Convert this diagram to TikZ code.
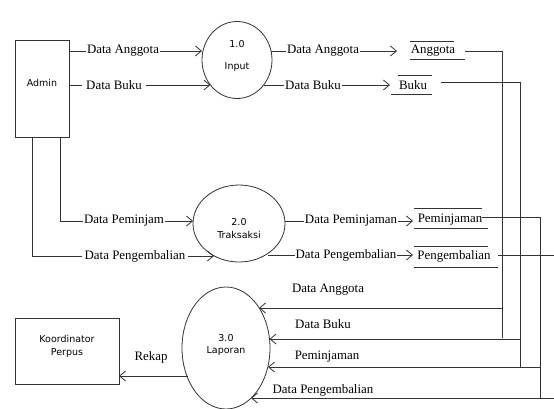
\documentclass[tikz,border=0pt]{standalone}
\usepackage{fontspec}
\setmainfont{Liberation Serif}
\newfontfamily\vsans{DejaVu Sans}
\usetikzlibrary{arrows.meta,shapes.geometric}
\begin{document}
\begin{tikzpicture}[x=1pt,y=-1pt,
  ln/.style={line width=0.8pt, draw=black!80},
  arr/.style={ln, -{Straight Barb[length=6pt,width=10pt]}},
  lbl/.style={font=\fontsize{12.9}{14}\selectfont, fill=white, inner sep=1pt},
  plain/.style={font=\fontsize{12.9}{14}\selectfont, inner sep=1pt},
  sans/.style={font=\vsans\fontsize{9.5}{12}\selectfont, align=center, inner sep=0pt},
  proc/.style={ellipse, draw=black!80, line width=0.8pt, inner sep=0pt},
  ent/.style={draw=black!80, line width=0.8pt, inner sep=0pt}
]
\useasboundingbox (0,0) rectangle (554,408);
\fill[white] (0,0) rectangle (554,408);

% entities
\node[ent, minimum width=54pt, minimum height=97pt] (admin) at (42,88.5) {};
\node[sans] (admintxt) at (42,83) {Admin};
\node[ent, minimum width=104pt, minimum height=66pt] (koord) at (67,351) {};
\node[sans] (koordtxt) at (67,346) {Koordinator\\[1pt]Perpus};

% processes
\node[proc, minimum width=70pt, minimum height=77pt] (input) at (237,60) {};
\node[sans] (p1a) at (237,44) {1.0};
\node[sans] (p1b) at (237,67) {Input};
\node[proc, minimum width=92pt, minimum height=77pt] (traks) at (239,223.5) {};
\node[sans] (p2a) at (239,222) {2.0};
\node[sans] (p2b) at (239,235) {Traksaksi};
\node[proc, minimum width=88pt, minimum height=122pt] (lap) at (226,348) {};
\node[sans] (p3a) at (226,338) {3.0};
\node[sans] (p3b) at (226,351) {Laporan};

% data stores
\node[plain] (ang) at (433,51) {Anggota};
\draw[ln] (410,41) -- (454,41) (410,59) -- (465,59);
\node[plain] (buku) at (413,85) {Buku};
\draw[ln] (398,75) -- (432,75) (391,94) -- (432,94);
\node[plain] (pem) at (450,220) {Peminjaman};
\draw[ln] (414,208) -- (482,208) (414,228) -- (488,228);
\node[plain] (peng) at (454,256) {Pengembalian};
\draw[ln] (414,246) -- (488,246) (414,267) -- (498,267);

% coordinates
\coordinate (adA) at (69,51);
\coordinate (adB) at (69,85);
\coordinate (inA) at (202,51);
\coordinate (inB) at (210.4,85);
\coordinate (inAo) at (271,51);
\coordinate (inBo) at (263.6,85);
\coordinate (stA) at (397,51);
\coordinate (stB) at (390,85);
\coordinate (adP1) at (60,137);
\coordinate (adP2) at (60,221);
\coordinate (adG1) at (32,137);
\coordinate (adG2) at (32,256);
\coordinate (trP) at (193,221);
\coordinate (trG) at (214,256);
\coordinate (trPo) at (285,221);
\coordinate (trGo) at (268,255);
\coordinate (stP) at (413,221);
\coordinate (stG) at (413,255);

\coordinate (angE) at (465,51);
\coordinate (angC) at (502,51);
\coordinate (angD) at (502,338);
\coordinate (angL) at (502,308);
\coordinate (bukE) at (441,82);
\coordinate (bukC) at (520,82);
\coordinate (bukD) at (520,367);
\coordinate (bukL) at (520,339);
\coordinate (pemE) at (482,217);
\coordinate (pemC) at (540,217);
\coordinate (pemD) at (540,398);
\coordinate (pemL) at (540,367);
\coordinate (pngE) at (498,255);
\coordinate (pngC) at (554,255);
\coordinate (pngL) at (554,398);

\coordinate (lapA) at (259,308);
\coordinate (lapB) at (269.5,339);
\coordinate (lapP) at (268,367);
\coordinate (lapG) at (251,398);
\coordinate (lapR) at (188,376);
\coordinate (koR) at (119,376);

% flows Admin -> Input
\draw[arr] (adA) -- (inA);
\node[lbl] (l1) at (123,51) {Data Anggota};
\draw[arr] (adB) -- (inB);
\node[lbl, inner xsep=4pt] (l2) at (114,85) {Data Buku};

% Input -> stores
\draw[arr] (inAo) -- (stA);
\node[lbl] (l3) at (323,51) {Data Anggota};
\draw[arr] (inBo) -- (stB);
\node[lbl] (l4) at (313,85) {Data Buku};

% Admin -> Traksaksi
\draw[arr] (adP1) -- (adP2) -- (trP);
\node[lbl] (l5) at (124,221) {Data Peminjam};
\draw[arr] (adG1) -- (adG2) -- (trG);
\node[lbl, inner xsep=3pt] (l6) at (135,256) {Data Pengembalian};

% Traksaksi -> stores
\draw[arr] (trPo) -- (stP);
\node[lbl] (l7) at (351,221) {Data Peminjaman};
\draw[arr] (trGo) -- (stG);
\node[lbl] (l8) at (346,255) {Data Pengembalian};

% stores -> Laporan
\draw[ln] (angE) -- (angC) -- (angD);
\draw[arr] (angL) -- (lapA);
\node[plain] (l9) at (328,290) {Data Anggota};
\draw[ln] (bukE) -- (bukC) -- (bukD);
\draw[arr] (bukL) -- (lapB);
\node[plain] (l10) at (323,324) {Data Buku};
\draw[ln] (pemE) -- (pemC) -- (pemD);
\draw[arr] (pemL) -- (lapP);
\node[plain] (l11) at (327,357) {Peminjaman};
\draw[ln] (pngE) -- (pngC);
\draw[arr] (pngL) -- (lapG);
\node[plain] (l12) at (323,390) {Data Pengembalian};

% Laporan -> Koordinator
\draw[arr] (lapR) -- (koR);
\node[plain] (l13) at (151,357) {Rekap};
\end{tikzpicture}
\end{document}
